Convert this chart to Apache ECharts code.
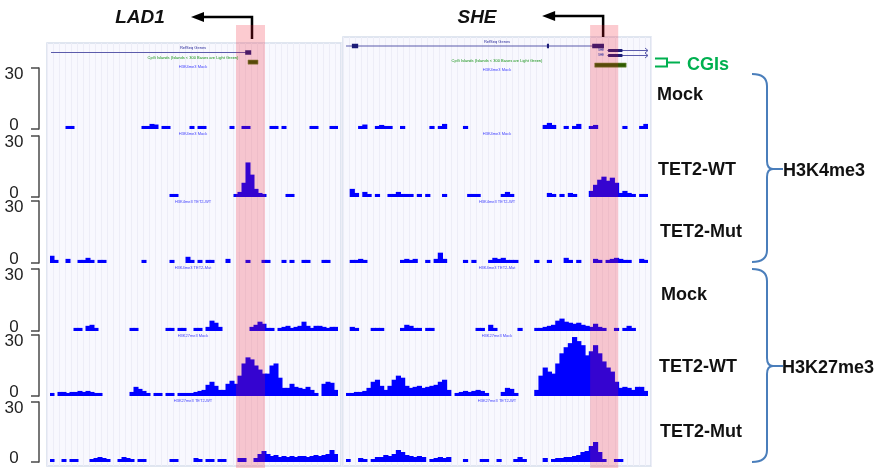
<!DOCTYPE html>
<html><head><meta charset="utf-8">
<script src="https://cdn.jsdelivr.net/npm/echarts@6/dist/echarts.min.js"></script>
<style>html,body{margin:0;padding:0;background:#fff}#c{width:876px;height:468px}</style>
</head><body><div id="c"></div>
<script>
// ---------------- DATA ----------------
const BINS = 72;
const binLabels = Array.from({length: BINS}, (_, i) => 'bin' + i);
const trackNames = ['Mock', 'TET2-WT', 'TET2-Mut', 'Mock', 'TET2-WT', 'TET2-Mut'];
const markNames = ['H3K4me3', 'H3K27me3'];
const geneNames = ['LAD1', 'SHE'];
const yTicks = [0, 30];

// LAD1 locus (left panel), 72 bins
const lad1_K4_Mock = [0,0,0,0,1.5,1.5,0,0,0,0, 0,0,0,0,0,0,0,0,0,0, 0,0,0,1.5,1.5,2.5,2.2,0,1.5,1.5, 0,0,0,0,0,1.5,0,1.5,1.5,0, 0,0,0,0,0,1.5,0,0,1.5,1.5, 0,0,0,0,0,1.5,1.5,0,1.5,0, 0,0,0,0,0,1.5,1.5,0,0,0, 1.5,1.5];
const lad1_K4_WT   = [0,0,0,0,0,0,0,0,0,0, 0,0,0,0,0,0,0,0,0,0, 0,0,0,0,0,0,0,0,0,0, 1.5,1.5,0,0,0,0,0,0,0,0, 0,0,0,0,0,0,1.5,2.5,7,17, 11,4,2,1.5,0,0,0,0,0,1.5, 1.5,0,0,0,0,0,0,0,0,0, 0,0];
const lad1_K4_Mut  = [3.5,1.5,0,0,2,0,0,1.5,1.5,2.5, 1.5,0,1.5,1.5,0,0,0,0,0,0, 0,0,0,1.5,0,0,0,0,0,0, 1.5,0,0,0,3,1.5,0,1.5,0,1.5, 1.5,0,0,0,2,0,0,0,0,1.5, 0,0,0,1.5,1.5,0,0,0,1.5,0, 1.5,0,0,1.5,1.5,0,0,0,1.5,1.5, 0,0];
const lad1_K27_Mock = [0,0,0,0,0,0,1.5,1.5,0,2.5, 3,1.5,0,0,0,0,0,0,0,0, 1.5,1.5,0,0,0,0,0,0,0,1.5, 1.5,0,1.5,1.5,0,0,1.5,1.5,0,2, 5,4,2,0,0,0,0,0,0,0, 2,3,4.5,3.5,1.5,1.5,0,1.5,2,2.5, 1.5,2,2.5,4.5,2.5,1.5,2.5,2.5,2,1.5, 2,2];
const lad1_K27_WT  = [1.5,0,2,2,1.5,2,2,2.5,2,2.5, 2,1.5,1.5,0,0,0,0,0,0,0, 2,4.5,3.5,2.5,1.5,0,1.5,1.5,0,1.5, 1.5,0,1.5,1.5,1.5,1.5,2,2.5,3,5.5, 7,5,3,3,6,7.5,6,10,16,19, 18,15,13,11,11,15,16,9,4,4, 6,4.5,4,3.5,4.5,3,1.5,0,6,7, 6.5,3];
const lad1_K27_Mut = [1.5,0,0,1.5,0,1.5,1.5,0,0,0, 1.5,2,2.5,2,1.5,0,0,1.5,2.5,2, 1.5,0,1.5,1.5,0,0,0,0,0,0, 1.5,1.5,0,0,0,0,2,1.5,0,1.5, 1.5,0,1.5,1.5,0,0,0,2,2,0, 0,2,4,5.5,4,3,3.5,2.5,3,2.5, 3,2.5,3,3,2.5,3,3.5,3,3.5,4, 6,4];

// SHE locus (right panel), 72 bins
const she_K4_Mock = [0,0,0,1.5,2.2,0,0,1.5,2,1.5, 1.5,0,0,1.5,0,0,0,0,0,0, 1.5,0,1.5,2.5,0,0,0,0,1.5,0, 0,0,0,0,0,0,0,0,0,0, 0,0,0,0,0,0,0,2,3,2, 0,0,1.5,0,1.5,2.5,0,0,1.5,2, 0,0,0,0,0,0,1.5,0,0,0, 1.5,2.5];
const she_K4_WT   = [0,4,2,0,2.5,1.5,0,1.5,0,0, 1.5,1.5,2.5,1.5,1.5,1.5,0,1.5,0,1.5, 0,0,0,1.5,0,0,0,0,0,1.5, 1.5,1.5,0,0,0,0,0,1.5,2.5,1.5, 0,0,0,0,0,0,0,0,2,1.5, 0,1.5,0,2,1.5,0,0,0,3,6, 8.5,10,8,9.5,7,2,3,2,1.5,0, 1.5,1.5];
const she_K4_Mut  = [0,1.5,1.5,2,1.5,0,0,0,0,0, 0,0,0,1.5,2,1.5,2,0,0,1.5, 0,2,5,2,0,0,0,0,1.5,0, 1.5,0,0,0,1.5,2.5,2,2.5,1.5,1.5, 1.5,0,0,0,0,1.5,0,0,1.5,0, 0,0,2.5,1.5,0,1.5,0,0,0,2, 1.5,0,1.5,2,2.5,2,1.5,1.5,0,0, 2,1.5];
const she_K27_Mock = [0,2,1.5,0,0,0,1.5,1.5,1.5,0, 0,0,0,1.5,3,2.5,1.5,1.5,0,1.5, 1.5,0,0,0,0,0,0,0,0,0, 0,1.5,1.5,0,3,1.5,0,0,0,0, 0,1.5,0,0,0,1.5,1.5,2,2.5,3, 5,6,4.5,4,3.5,4,3,2.5,2,3.5, 2,1.5,0,0,1.5,0,1.5,2.5,1.5,0, 0,0];
const she_K27_WT  = [1.5,1.5,2,2,2.5,4,7,8,5,3, 5,8,10,9,5,4,4.5,5,4,4.5, 5,5.5,7,8,3,0,1.5,2,2.5,2, 2.5,3,2.5,1.5,0,0,0,2,4,3.5, 1.5,0,0,0,0,3,10,14,12,11, 16,21,24,26,29,27,25,20,22,25, 21,17,14,12,7,4,4.5,4,3,4.5, 4.5,2.5];
const she_K27_Mut = [1.5,0,0,2,1.5,0,1.5,2.5,2.5,3.5, 3,4,6,5,3.5,3,2.5,3,2.5,0, 1.5,2,2.5,2,2.5,0,0,0,1.5,0, 0,0,1.5,1.5,0,0,1.5,0,0,0, 1.5,2.5,1.5,0,0,0,0,2,0,1.5, 2,2,2.5,2.5,3,3.5,5,5.5,8,10, 5,1.5,0,0,1.5,1.5,0,0,0,0, 0,0];

// gene annotation features: [startBin, endBin, kind(0 line,1 exon,2 CGI,3 TSS arrow,4 strand end), transcriptRow]
const lad1Features = [[0.25, 50, 0, 0], [48.8, 50.3, 1, 0], [49.5, 52, 2, 0], [50.5, 50.5, 3, 0]];
const sheFeatures = [[0, 61.5, 0, 0], [1.4, 2.9, 1, 0], [47.9, 48.4, 1, 0], [58.7, 61.5, 1, 0],
  [62.3, 72, 0, 1], [62.3, 72, 0, 2], [62.5, 65.9, 1, 1], [62.5, 65.9, 1, 2], [72, 72, 4, 1], [72, 72, 4, 2],
  [59.3, 66.8, 2, 0], [61.3, 61.3, 3, 0]];
// highlighted promoter regions (bins)
const lad1Highlight = [[46.5, 53.75]];
const sheHighlight = [[58.2, 64.9]];

// ---------------- LAYOUT / STYLE ----------------
const FONT = '"Liberation Sans", Arial, Helvetica, sans-serif';
const rowTop = [68, 136, 201, 269, 335, 402];
const rowH = [61, 61, 62, 62, 61, 60];
const panels = [
  {left: 50, width: 288, bgLeft: 47, bgTop: 43, bgWidth: 294, stripes: 49,
   tracks: [lad1_K4_Mock, lad1_K4_WT, lad1_K4_Mut, lad1_K27_Mock, lad1_K27_WT, lad1_K27_Mut],
   features: lad1Features, highlight: lad1Highlight, rows: [52.5], cgiY: 62, tssBottom: 39, tssTop: 17,
   tinyX: 193, tinyY: [48, 58, 67], barW: 5},
  {left: 346, width: 302, bgLeft: 343, bgTop: 37, bgWidth: 308, stripes: 51,
   tracks: [she_K4_Mock, she_K4_WT, she_K4_Mut, she_K27_Mock, she_K27_WT, she_K27_Mut],
   features: sheFeatures, highlight: sheHighlight, rows: [46, 50.5, 55.5], cgiY: 65, tssBottom: 37, tssTop: 16,
   tinyX: 497, tinyY: [42, 61, 70], barW: 5.2}
];

const grid = [], xAxis = [], yAxis = [], series = [];
function addGrid(g, xa, ya) { grid.push(g); const i = grid.length - 1; xa.gridIndex = i; ya.gridIndex = i; xAxis.push(xa); yAxis.push(ya); return i; }

// background panels
panels.forEach(p => {
  addGrid({left: p.bgLeft, top: p.bgTop, width: p.bgWidth, height: 466 - p.bgTop, show: true,
           backgroundColor: '#f8f8fe', borderColor: '#d6deeb', borderWidth: 1.5},
    {type: 'value', min: 0, max: p.stripes, interval: 1, axisLine: {show: false}, axisTick: {show: false},
     axisLabel: {show: false}, splitLine: {show: true, lineStyle: {color: '#ededf7', width: 1}}},
    {type: 'value', min: 0, max: 1, axisLine: {show: false}, axisTick: {show: false}, axisLabel: {show: false}, splitLine: {show: false}});
});

// signal tracks
panels.forEach((p, pi) => {
  p.tracks.forEach((vals, r) => {
    const gi = addGrid({left: p.left, top: rowTop[r], width: p.width, height: rowH[r]},
      {type: 'category', data: binLabels, show: false, boundaryGap: true},
      {type: 'value', min: yTicks[0], max: yTicks[1], interval: yTicks[1] - yTicks[0], show: pi === 0, offset: 11,
       axisLine: {show: true, lineStyle: {color: '#4a4a4a', width: 1.5}},
       axisTick: {show: true, length: 8, lineStyle: {color: '#4a4a4a', width: 1.5}},
       splitLine: {show: false},
       axisLabel: {margin: 25, align: 'center', color: '#222', fontSize: 17, fontFamily: FONT,
         formatter: v => v === yTicks[1] ? '{t|' + v + '}' : '{b|' + v + '}',
         rich: {t: {fontSize: 17, fontFamily: FONT, color: '#222', padding: [12, 0, 0, 0]},
                b: {fontSize: 17, fontFamily: FONT, color: '#222', padding: [0, 0, 8, 0]}}}});
    series.push({type: 'bar', xAxisIndex: gi, yAxisIndex: gi, silent: true, barWidth: p.barW,
      data: vals.map(v => v > 0 ? v : '-'), itemStyle: {color: '#0000ff'}, z: 2});
  });
});

// gene annotation tracks
function geneRenderer(cfg) {
  return function (params, api) {
    const s = api.value(0), e = api.value(1), kind = api.value(2), row = api.value(3);
    const x0 = api.coord([s, 0])[0], x1 = api.coord([e, 0])[0];
    if (kind === 0) {
      const y = cfg.rows[row];
      return {type: 'line', shape: {x1: x0, y1: y, x2: x1, y2: y}, style: {stroke: '#5b5bab', lineWidth: 1.2}};
    }
    if (kind === 1) {
      const y = cfg.rows[row]; const h = row === 0 ? 4.5 : 3;
      return {type: 'rect', shape: {x: x0, y: y - h / 2, width: Math.max(x1 - x0, 1.5), height: h}, style: {fill: '#1c1c78'}};
    }
    if (kind === 2) {
      return {type: 'rect', shape: {x: x0, y: cfg.cgiY - 2, width: x1 - x0, height: 4.2}, style: {fill: '#2e5a00', stroke: '#7f9a50', lineWidth: 0.6}};
    }
    if (kind === 3) {
      const yb = cfg.tssBottom, yt = cfg.tssTop;
      return {type: 'group', children: [
        {type: 'polyline', shape: {points: [[x0, yb], [x0, yt], [x0 - 50, yt]]}, style: {stroke: '#000', lineWidth: 2.5, fill: null}},
        {type: 'polygon', shape: {points: [[x0 - 61, yt], [x0 - 48, yt - 5], [x0 - 48, yt + 5]]}, style: {fill: '#000'}}
      ]};
    }
    const y = cfg.rows[row];
    return {type: 'polyline', shape: {points: [[x0 - 3, y - 2.5], [x0, y], [x0 - 3, y + 2.5]]}, style: {stroke: '#5b5bab', lineWidth: 1, fill: null}};
  };
}
panels.forEach(p => {
  const gi = addGrid({left: p.left, top: 0, width: p.width, height: 72},
    {type: 'value', min: 0, max: BINS, show: false}, {type: 'value', min: 0, max: 72, inverse: true, show: false});
  series.push({type: 'custom', xAxisIndex: gi, yAxisIndex: gi, silent: true, clip: false, z: 3,
    data: p.features, renderItem: geneRenderer(p)});
});

// highlight overlays
panels.forEach(p => {
  const gi = addGrid({left: p.left, top: 25, width: p.width, bottom: 0},
    {type: 'value', min: 0, max: BINS, show: false}, {type: 'value', min: 0, max: 1, show: false});
  series.push({type: 'custom', xAxisIndex: gi, yAxisIndex: gi, silent: true, clip: false, z: 10,
    data: p.highlight,
    renderItem: (params, api) => {
      const a = api.coord([api.value(0), 1]), b = api.coord([api.value(1), 0]);
      return {type: 'rect', shape: {x: a[0], y: a[1], width: b[0] - a[0], height: b[1] - a[1]}, style: {fill: 'rgba(240,20,40,0.22)'}};
    }});
});

// ---------------- TEXT / ANNOTATIONS ----------------
const baseY = rowTop.map((t, i) => t + rowH[i]);
const labelPos = [[657, 95], [658, 170], [660, 232], [661, 295], [659, 367], [660, 432]];
const graphic = [];
function txt(x, y, text, font, fill, align) {
  graphic.push({type: 'text', x: x, y: y, silent: true, z: 20,
    style: {text: text, font: font, fill: fill, textAlign: align || 'left', textVerticalAlign: 'middle'}});
}
trackNames.forEach((n, i) => txt(labelPos[i][0], labelPos[i][1], n, 'bold 18px ' + FONT, '#111'));
txt(783, 171, markNames[0], 'bold 18px ' + FONT, '#111');
txt(782, 368, markNames[1], 'bold 18px ' + FONT, '#111');
txt(687, 65, 'CGIs', 'bold 18px ' + FONT, '#00b050');
txt(140, 18, geneNames[0], 'italic bold 19px ' + FONT, '#111', 'center');
txt(477, 18, geneNames[1], 'italic bold 19px ' + FONT, '#111', 'center');
// tiny browser texts
panels.forEach((p, pi) => {
  txt(p.tinyX, p.tinyY[0], 'RefSeq Genes', '4px ' + FONT, '#2a2a9a', 'center');
  txt(p.tinyX, p.tinyY[1], 'CpG Islands (Islands < 300 Bases are Light Green)', '4px ' + FONT, '#109010', 'center');
  txt(p.tinyX, p.tinyY[2], 'H3K4me3 ' + trackNames[0], '4px ' + FONT, '#4040ff', 'center');
  baseY.forEach((b, r) => { if (r < 5) txt(p.tinyX, b + 4.5, markNames[r < 3 ? 0 : 1] + ' ' + trackNames[r], '4px ' + FONT, '#4040ff', 'center'); });
});
txt(601, 50.5, geneNames[1], '3px ' + FONT, '#2a2a9a', 'center');
txt(601, 55.5, geneNames[1], '3px ' + FONT, '#2a2a9a', 'center');
// braces
const BRACE = {stroke: '#4a7ebb', lineWidth: 2, fill: null};
function brace(top, mid, bot) {
  const add = el => { el.silent = true; el.z = 20; el.style = Object.assign({}, BRACE); graphic.push(el); };
  add({type: 'bezierCurve', shape: {x1: 752, y1: top, cpx1: 767, cpy1: top, x2: 767, y2: top + 12}});
  add({type: 'line', shape: {x1: 767, y1: top + 12, x2: 767, y2: mid - 8}});
  add({type: 'bezierCurve', shape: {x1: 767, y1: mid - 8, cpx1: 767, cpy1: mid, x2: 773, y2: mid}});
  add({type: 'line', shape: {x1: 772, y1: mid, x2: 783, y2: mid}});
  add({type: 'bezierCurve', shape: {x1: 773, y1: mid, cpx1: 767, cpy1: mid, x2: 767, y2: mid + 8}});
  add({type: 'line', shape: {x1: 767, y1: mid + 8, x2: 767, y2: bot - 12}});
  add({type: 'bezierCurve', shape: {x1: 767, y1: bot - 12, cpx1: 767, cpy1: bot, x2: 752, y2: bot}});
}
brace(74, 169, 262);
brace(269, 366, 462);
graphic.push({type: 'polyline', silent: true, z: 20, shape: {points: [[655, 58.5], [667, 58.5], [667, 66.5], [655, 66.5]]}, style: {stroke: '#00b050', lineWidth: 2, fill: null}});
graphic.push({type: 'line', silent: true, z: 20, shape: {x1: 667, y1: 62.5, x2: 680, y2: 62.5}, style: {stroke: '#00b050', lineWidth: 2}});

const chart = echarts.init(document.getElementById('c'), null, {renderer: 'canvas', width: 876, height: 468});
chart.setOption({animation: false, backgroundColor: '#ffffff', grid, xAxis, yAxis, series, graphic});
</script></body></html>
